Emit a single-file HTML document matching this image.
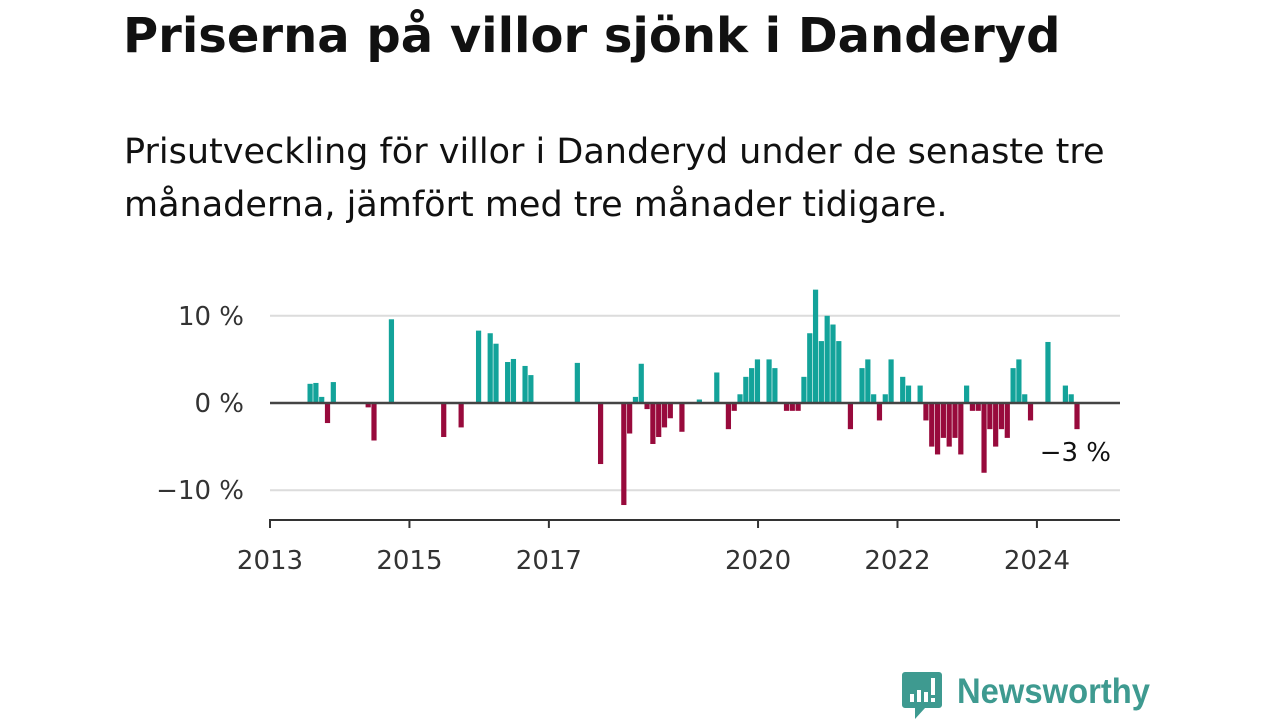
<!DOCTYPE html>
<html><head><meta charset="utf-8"><style>
body{margin:0;width:1280px;height:720px;background:#fff;overflow:hidden;font-family:"Liberation Sans","DejaVu Sans",sans-serif;color:#111;position:relative}
#title{position:absolute;left:123px;top:8px;font-size:48px;font-weight:bold;margin:0;font-family:"DejaVu Sans",sans-serif;white-space:nowrap}
#sub{position:absolute;left:124px;top:126px;font-size:35px;line-height:53px;margin:0;font-family:"DejaVu Sans",sans-serif;width:1070px}
svg{position:absolute;left:0;top:0}
</style></head><body>
<h1 id="title">Priserna på villor sjönk i Danderyd</h1>
<p id="sub">Prisutveckling för villor i Danderyd under de senaste tre månaderna, jämfört med tre månader tidigare.</p>
<svg id="chart" width="1280" height="720"></svg>
<script>
const months=[6,7,8,9,10,16,17,20,29,32,35,37,38,40,41,43,44,52,56,60,61,62,63,64,65,66,67,68,70,73,76,78,79,80,81,82,83,85,86,88,89,90,91,92,93,94,95,96,97,99,101,102,103,104,105,106,108,109,111,112,113,114,115,116,117,118,119,120,121,122,123,124,125,126,127,128,129,130,133,136,137,138];
const values=[2.2,2.3,0.7,-2.3,2.4,-0.5,-4.3,9.6,-3.9,-2.8,8.3,8.0,6.8,4.7,5.05,4.25,3.2,4.6,-7.0,-11.7,-3.5,0.7,4.5,-0.7,-4.7,-3.9,-2.8,-1.75,-3.3,0.4,3.5,-3.0,-0.9,1.0,3.0,4.0,5.0,5.0,4.0,-0.9,-0.9,-0.9,3.0,8.0,13.0,7.1,10.0,9.0,7.1,-3.0,4.0,5.0,1.0,-2.0,1.0,5.0,3.0,2.0,2.0,-2.0,-5.0,-5.9,-4.0,-5.0,-4.0,-5.9,2.0,-0.9,-0.9,-8.0,-3.0,-5.0,-3.0,-4.0,4.0,5.0,1.0,-2.0,7.0,2.0,1.0,-3.0];
const yTicks=[10,0,-10];
const yTickLabels=["10 %","0 %","\u221210 %"];
const xTickYears=[2013,2015,2017,2020,2022,2024];
const lastLabel="\u22123 %";
const NS="http://www.w3.org/2000/svg",svg=document.getElementById('chart');
const x0=270,mw=5.81,y0=403,py=8.72;
const xm=m=>x0+m*mw;
const y=v=>y0-v*py;
function mk(t,a,txt){const e=document.createElementNS(NS,t);for(const k in a)e.setAttribute(k,a[k]);if(txt!=null)e.textContent=txt;svg.appendChild(e);return e;}
yTicks.forEach((t,i)=>{
 if(t!==0){const g=mk('line',{x1:270,x2:1120,y1:y(t),y2:y(t),stroke:'#dcdcdc','stroke-width':2});
 
 }
 const l=mk('text',{x:244,y:y(t)+9,'text-anchor':'end','font-size':26,fill:'#333','font-family':'DejaVu Sans,sans-serif'},yTickLabels[i]);
 
 
});
months.forEach((m,i)=>{
 const v=values[i],c=xm(m+0.9);
 const r=mk('rect',{x:c-2.6,width:5.2,y:v>=0?y(v):y0,height:Math.abs(v)*py,fill:v>=0?'#13a39a':'#980a3c'});
 
 
});
const z=mk('line',{x1:270,x2:1120,y1:y0,y2:y0,stroke:'#444','stroke-width':2.5});


const ax=mk('line',{x1:269,x2:1120,y1:520,y2:520,stroke:'#333','stroke-width':2});


xTickYears.forEach(yr=>{
 const xx=xm((yr-2013)*12);
 const t=mk('line',{x1:xx,x2:xx,y1:520,y2:528,stroke:'#333','stroke-width':2});
 
 
 const l=mk('text',{x:xx,y:569,'text-anchor':'middle','font-size':26,fill:'#333','font-family':'DejaVu Sans,sans-serif'},yr);
 
 
});
const ll=mk('text',{x:1111,y:461,'text-anchor':'end','font-size':26,fill:'#111','font-family':'DejaVu Sans,sans-serif'},lastLabel);


</script>
<svg width="1280" height="720" style="pointer-events:none">
<path d="M905 672 h34 a3 3 0 0 1 3 3 v30 a3 3 0 0 1 -3 3 h-14 l-10 11 v-11 h-10 a3 3 0 0 1 -3 -3 v-30 a3 3 0 0 1 3 -3z" fill="#3e9a90"/>
<rect x="910" y="694" width="4" height="8" fill="#fff"/><rect x="917" y="690" width="4" height="12" fill="#fff"/><rect x="924" y="692" width="4" height="10" fill="#fff"/><rect x="931" y="678" width="4" height="17" fill="#fff"/><rect x="931" y="698" width="4" height="4" fill="#fff"/>
<text x="957" y="703" font-size="35" font-weight="bold" fill="#3e9a90" font-family="Liberation Sans,sans-serif" textLength="193" lengthAdjust="spacingAndGlyphs">Newsworthy</text>
</svg>
</body></html>
